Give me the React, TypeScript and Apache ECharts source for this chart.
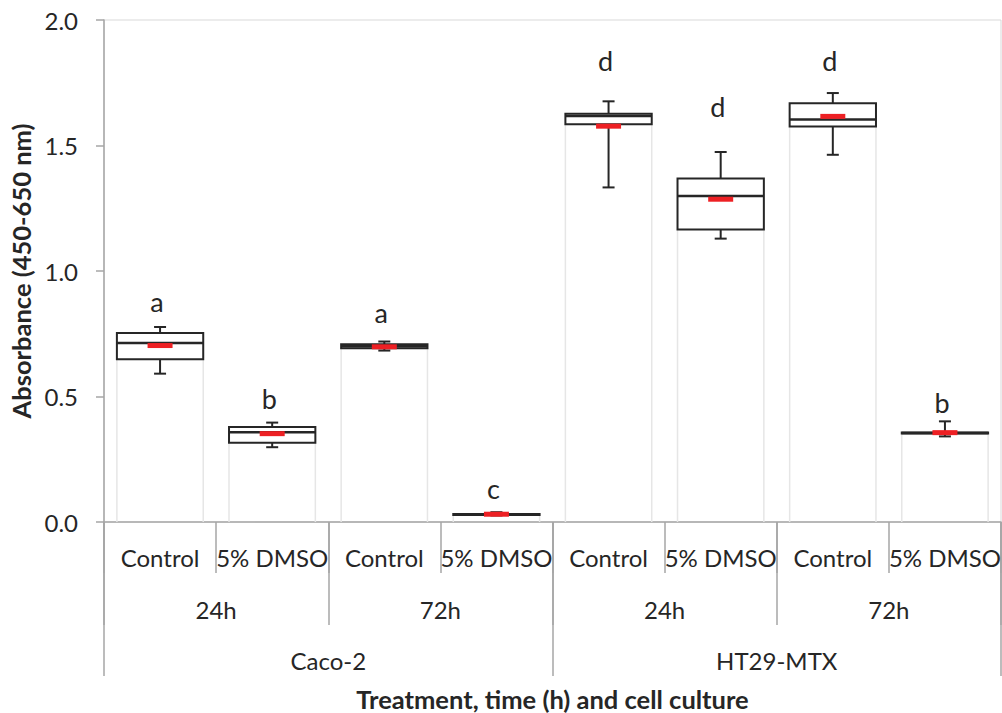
import React, { useEffect, useRef } from "react";
import * as echarts from "echarts";

// ---- data ----
const treatments = ["Control", "5% DMSO", "Control", "5% DMSO", "Control", "5% DMSO", "Control", "5% DMSO"];
const times = ["24h", "72h", "24h", "72h"];
const cultures = ["Caco-2", "HT29-MTX"];

const minValues = [0.591, 0.298, 0.683, 0.026, 1.333, 1.129, 1.463, 0.341];
const q1Values = [0.648, 0.316, 0.692, 0.028, 1.585, 1.165, 1.576, 0.353];
const medianValues = [0.713, 0.358, 0.7, 0.03, 1.618, 1.299, 1.604, 0.355];
const q3Values = [0.753, 0.378, 0.708, 0.032, 1.626, 1.369, 1.668, 0.357];
const maxValues = [0.777, 0.396, 0.719, 0.039, 1.676, 1.474, 1.709, 0.401];
const meanValues = [0.703, 0.352, 0.698, 0.031, 1.577, 1.286, 1.616, 0.356];

const letters = ["a", "b", "a", "c", "d", "d", "d", "b"];
const letterValues = [0.879, 0.492, 0.834, 0.135, 1.837, 1.657, 1.839, 0.478];

const yMin = 0;
const yMax = 2;
const yInterval = 0.5;

const FONT = "Lato, 'Open Sans', sans-serif";
const TEXT = "#262626";
const AXIS = "#a6a6a6";

export default function App() {
  const ref = useRef<HTMLDivElement>(null);

  useEffect(() => {
    if (!ref.current) return;
    const chart = echarts.init(ref.current, undefined, { renderer: "svg" });

    const boxData = treatments.map((_, i) => [
      i,
      minValues[i],
      q1Values[i],
      medianValues[i],
      q3Values[i],
      maxValues[i],
      meanValues[i],
    ]);
    const letterData = letters.map((l, i) => [i, letterValues[i], l]);

    const renderBox = (params: any, api: any) => {
      const x = api.value(0);
      const pMin = api.coord([x, api.value(1)]);
      const pQ1 = api.coord([x, api.value(2)]);
      const pMed = api.coord([x, api.value(3)]);
      const pQ3 = api.coord([x, api.value(4)]);
      const pMax = api.coord([x, api.value(5)]);
      const pMean = api.coord([x, api.value(6)]);
      const p0 = api.coord([x, 0]);
      const band = api.size([1, 0])[0];
      const bw = band * 0.77;
      const cx = pMed[0];
      const left = cx - bw / 2;
      const right = cx + bw / 2;
      const capW = 12;
      const dark = "#262626";
      return {
        type: "group",
        children: [
          { type: "line", shape: { x1: left, y1: pQ1[1], x2: left, y2: p0[1] }, style: { stroke: "#e6e6e6", lineWidth: 1.5 } },
          { type: "line", shape: { x1: right, y1: pQ1[1], x2: right, y2: p0[1] }, style: { stroke: "#e6e6e6", lineWidth: 1.5 } },
          { type: "line", shape: { x1: cx, y1: pMax[1], x2: cx, y2: pMin[1] }, style: { stroke: dark, lineWidth: 2 } },
          { type: "line", shape: { x1: cx - capW / 2, y1: pMax[1], x2: cx + capW / 2, y2: pMax[1] }, style: { stroke: dark, lineWidth: 2 } },
          { type: "line", shape: { x1: cx - capW / 2, y1: pMin[1], x2: cx + capW / 2, y2: pMin[1] }, style: { stroke: dark, lineWidth: 2 } },
          {
            type: "rect",
            shape: { x: left, y: pQ3[1], width: bw, height: Math.max(pQ1[1] - pQ3[1], 0.5) },
            style: { fill: "#ffffff", stroke: dark, lineWidth: 2 },
          },
          { type: "line", shape: { x1: left, y1: pMed[1], x2: right, y2: pMed[1] }, style: { stroke: dark, lineWidth: 2.5 } },
          { type: "rect", shape: { x: cx - 12.5, y: pMean[1] - 2.5, width: 25, height: 5 }, style: { fill: "#ed2024" } },
        ],
      };
    };

    const renderLetter = (params: any, api: any) => {
      const p = api.coord([api.value(0), api.value(1)]);
      return {
        type: "text",
        x: p[0] - 3,
        y: p[1],
        style: {
          text: letters[params.dataIndex],
          fill: TEXT,
          fontSize: 27,
          fontFamily: FONT,
          align: "center",
          verticalAlign: "middle",
        },
      };
    };

    const labelStyle = { fontSize: 24, color: TEXT, fontFamily: FONT };
    const titleStyle = { fontSize: 25.5, fontWeight: "bold", color: TEXT, fontFamily: FONT };

    chart.setOption({
      animation: false,
      backgroundColor: "#ffffff",
      textStyle: { fontFamily: FONT },
      grid: {
        left: 104,
        top: 20,
        width: 897,
        height: 502,
        show: true,
        borderColor: "#d9d9d9",
        borderWidth: 1,
        containLabel: false,
        outerBoundsMode: "none",
      },
      xAxis: [
        {
          type: "category",
          data: treatments,
          position: "bottom",
          boundaryGap: true,
          axisLine: { show: true, onZero: false, lineStyle: { color: AXIS, width: 1.5 } },
          axisTick: { show: true, interval: 0, length: 51, lineStyle: { color: AXIS, width: 1.5 } },
          axisLabel: { interval: 0, margin: 23, ...labelStyle },
          splitLine: { show: false },
        },
        {
          type: "category",
          data: times,
          position: "bottom",
          boundaryGap: true,
          axisLine: { show: false, onZero: false },
          axisTick: { show: true, interval: 0, length: 103, lineStyle: { color: AXIS, width: 1.5 } },
          axisLabel: { interval: 0, margin: 75, ...labelStyle },
          splitLine: { show: false },
        },
        {
          type: "category",
          data: cultures,
          position: "bottom",
          boundaryGap: true,
          axisLine: { show: false, onZero: false },
          axisTick: { show: true, interval: 0, length: 154, lineStyle: { color: AXIS, width: 1.5 } },
          axisLabel: { interval: 0, margin: 126, ...labelStyle },
          splitLine: { show: false },
          name: "Treatment, time (h) and cell culture",
          nameLocation: "middle",
          nameGap: 164,
          nameTextStyle: titleStyle,
        },
      ],
      yAxis: {
        type: "value",
        min: yMin,
        max: yMax,
        interval: yInterval,
        axisLine: { show: true, lineStyle: { color: AXIS, width: 1.5 } },
        axisTick: { show: true, length: 8, lineStyle: { color: AXIS, width: 1.5 } },
        axisLabel: { margin: 26, ...labelStyle, formatter: (v: number) => v.toFixed(1) },
        splitLine: { show: false },
        name: "Absorbance (450-650 nm)",
        nameLocation: "middle",
        nameGap: 66,
        nameTextStyle: titleStyle,
      },
      series: [
        {
          type: "custom",
          xAxisIndex: 0,
          renderItem: renderBox,
          data: boxData,
          encode: { x: 0, y: [1, 2, 3, 4, 5] },
          clip: false,
          z: 2,
        },
        {
          type: "custom",
          xAxisIndex: 0,
          renderItem: renderLetter,
          data: letterData,
          encode: { x: 0, y: 1 },
          clip: false,
          z: 3,
        },
      ],
    });

    return () => chart.dispose();
  }, []);

  return (
    <div
      ref={ref}
      style={{ position: "absolute", left: 0, top: 0, width: 1002, height: 713, background: "#fff" }}
    />
  );
}
